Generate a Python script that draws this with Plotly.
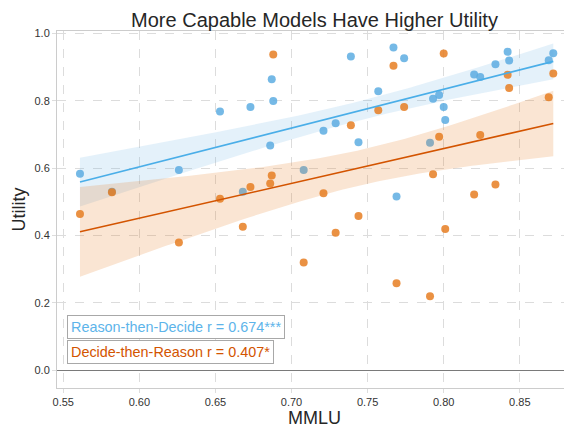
import numpy as np
import plotly.graph_objects as go

# MMLU score per model
mmlu = [0.561, 0.582, 0.626, 0.653, 0.668, 0.673, 0.686, 0.687, 0.688, 0.708,
        0.721, 0.729, 0.739, 0.744, 0.757, 0.767, 0.769, 0.774, 0.791, 0.793,
        0.797, 0.800, 0.801, 0.820, 0.824, 0.834, 0.842, 0.843, 0.869, 0.872]
# Utility, Reason-then-Decide
rtd = [0.583, 0.530, 0.594, 0.768, 0.530, 0.781, 0.667, 0.864, 0.799, 0.594,
       0.711, 0.733, 0.931, 0.677, 0.828, 0.958, 0.516, 0.926, 0.675, 0.806,
       0.817, 0.781, 0.743, 0.878, 0.870, 0.908, 0.945, 0.919, 0.920, 0.941]
# Utility, Decide-then-Reason
dtr = [0.464, 0.528, 0.379, 0.509, 0.426, 0.544, 0.554, 0.578, 0.937, 0.320,
       0.525, 0.408, 0.727, 0.458, 0.772, 0.904, 0.258, 0.781, 0.220, 0.582,
       0.693, 0.940, 0.419, 0.522, 0.698, 0.551, 0.877, 0.838, 0.810, 0.881]

series_names = ["Reason-then-Decide", "Decide-then-Reason"]
r_labels = ["r = 0.674***", "r = 0.407*"]
x_ticks = [0.55, 0.60, 0.65, 0.70, 0.75, 0.80, 0.85]
y_ticks = [0.0, 0.2, 0.4, 0.6, 0.8, 1.0]

point_colors = ["#5DADE2", "#E67E22"]
line_colors = ["#4AAEE8", "#D35400"]
band_colors = ["rgba(93,173,226,0.17)", "rgba(230,126,34,0.20)"]
text_colors = ["#5DB4EA", "#D35400"]

FONT = "Liberation Sans, Arial, sans-serif"


def fit_band(x, y, n_pts=100, mult=1.5):
    x = np.asarray(x, float)
    y = np.asarray(y, float)
    n = len(x)
    b, a = np.polyfit(x, y, 1)
    xs = np.linspace(x.min(), x.max(), n_pts)
    yhat = a + b * xs
    resid = y - (a + b * x)
    s = np.sqrt(np.sum(resid ** 2) / (n - 2))
    xm = x.mean()
    sxx = np.sum((x - xm) ** 2)
    se = s * np.sqrt(1.0 / n + (xs - xm) ** 2 / sxx)
    return xs, yhat, yhat - mult * se, yhat + mult * se


fig = go.Figure()
fits = []
for i, ys in enumerate([rtd, dtr]):
    fig.add_trace(go.Scatter(x=mmlu, y=ys, mode="markers",
                             marker=dict(size=8, color=point_colors[i], opacity=0.85,
                                         line=dict(width=0)),
                             showlegend=False, hoverinfo="skip"))
    xs, yh, lo, hi = fit_band(mmlu, ys)
    fits.append((xs, yh))
    fig.add_trace(go.Scatter(x=np.concatenate([xs, xs[::-1]]),
                             y=np.concatenate([hi, lo[::-1]]),
                             fill="toself", fillcolor=band_colors[i],
                             line=dict(width=0), mode="lines",
                             showlegend=False, hoverinfo="skip"))

for i, (xs, yh) in enumerate(fits):
    fig.add_trace(go.Scatter(x=xs, y=yh, mode="lines",
                             line=dict(color=line_colors[i], width=1.6),
                             showlegend=False, hoverinfo="skip"))

axis_common = dict(showgrid=True, gridcolor="#dcdcdc", griddash="dash", gridwidth=1,
                   showline=True, mirror=True, linecolor="#cccccc", linewidth=1,
                   ticks="outside", ticklen=4, tickcolor="#dddddd",
                   tickfont=dict(family=FONT, size=11, color="#333333"))

fig.update_xaxes(range=[0.5459, 0.8843], tickvals=x_ticks,
                 ticktext=[f"{v:.2f}" for v in x_ticks], zeroline=False,
                 title=dict(text="MMLU", font=dict(family=FONT, size=18, color="#262626"),
                            standoff=3),
                 **axis_common)
fig.update_yaxes(range=[-0.0525, 1.0068], tickvals=y_ticks,
                 ticktext=[f"{v:.1f}" for v in y_ticks],
                 zeroline=True, zerolinecolor="#7a7a7a", zerolinewidth=1.3,
                 title=dict(text="Utility", font=dict(family=FONT, size=18, color="#262626"),
                            standoff=4),
                 **axis_common)

for i, yp in enumerate([0.1706, 0.102]):
    fig.add_annotation(x=0.0188, y=yp, xref="paper", yref="paper",
                       xanchor="left", yanchor="middle", showarrow=False,
                       text=f"{series_names[i]} {r_labels[i]}",
                       font=dict(family=FONT, size=14.4, color=text_colors[i]),
                       bgcolor="white", bordercolor="#a8a8a8", borderwidth=1,
                       borderpad=3)

# The page places the figure 8px in from the top-left corner, so the figure
# is sized to fill the remaining 564x420 of the 572x428 window.
fig.update_layout(
    width=564, height=420,
    margin=dict(l=49, r=0, t=23, b=40),
    paper_bgcolor="white", plot_bgcolor="white",
    title=dict(text="More Capable Models Have Higher Utility",
               x=0.5, xref="paper", xanchor="center", y=1 - 12 / 420, yanchor="middle",
               font=dict(family=FONT, size=20, color="#262626")),
    font=dict(family=FONT),
)

fig.write_html("out.html")
